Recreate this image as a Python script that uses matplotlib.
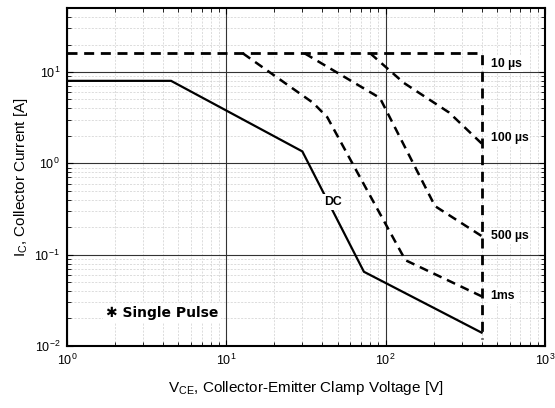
import numpy as np
import matplotlib.pyplot as plt
from matplotlib.ticker import LogLocator, NullFormatter

plt.rcParams['font.family'] = ['Liberation Sans', 'DejaVu Sans']
plt.rcParams['mathtext.fontset'] = 'custom'
plt.rcParams['mathtext.rm'] = 'Liberation Sans'

# --- veriler ---
dc_v = [1, 4.5, 30, 73, 400]
dc_i = [8, 8, 1.35, 0.065, 0.014]

us10_v = [1, 400, 400]
us10_i = [16, 16, 0.012]

us100_v = [80, 130, 250, 400]
us100_i = [16, 7.6, 3.6, 1.65]

us500_v = [31, 92, 204, 400]
us500_i = [16, 5.2, 0.34, 0.16]

ms1_v = [12.7, 35, 43, 60, 133, 400]
ms1_i = [16, 4.6, 3.2, 1.1, 0.087, 0.035]

labels = ["10 \u00b5s", "100 \u00b5s", "500 \u00b5s", "1ms"]
label_pos = [(455, 12.2), (455, 1.9), (455, 0.16), (455, 0.035)]

fig = plt.figure(figsize=(5.55, 4.08), dpi=100)
ax = fig.add_axes([0.1207, 0.152, 0.8613, 0.828])

dash = (0, (3.6, 2.4))
ax.plot(dc_v, dc_i, color='black', lw=1.6, solid_joinstyle='miter', zorder=3)
ax.plot(us10_v, us10_i, color='black', lw=2, linestyle=dash, zorder=3)
ax.plot(us100_v, us100_i, color='black', lw=1.8, linestyle=dash, zorder=3)
ax.plot(us500_v, us500_i, color='black', lw=1.8, linestyle=dash, zorder=3)
ax.plot(ms1_v, ms1_i, color='black', lw=1.8, linestyle=dash, zorder=3)

ax.set_xscale('log')
ax.set_yscale('log')
ax.set_xlim(1, 1000)
ax.set_ylim(0.01, 50)

ax.xaxis.set_major_locator(LogLocator(base=10, numticks=10))
ax.yaxis.set_major_locator(LogLocator(base=10, numticks=10))
ax.xaxis.set_minor_locator(LogLocator(base=10, subs=np.arange(2, 10), numticks=20))
ax.yaxis.set_minor_locator(LogLocator(base=10, subs=np.arange(2, 10), numticks=20))
ax.xaxis.set_minor_formatter(NullFormatter())
ax.yaxis.set_minor_formatter(NullFormatter())

ax.grid(True, which='major', color='#333333', lw=0.8, linestyle='-')
ax.grid(True, which='minor', color='#cfcfcf', lw=0.5, linestyle='--', dashes=(3, 2))
ax.set_axisbelow(True)

ax.tick_params(which='both', direction='in', top=True, right=True, labelsize=9, pad=5)
ax.tick_params(which='major', length=4)
ax.tick_params(which='minor', length=3)
for s in ax.spines.values():
    s.set_linewidth(1.5)

for txt, (x, y) in zip(labels, label_pos):
    ax.text(x, y, txt, fontsize=8.8, fontweight='bold', ha='left', va='center', zorder=4,
            bbox=dict(facecolor='white', edgecolor='none', pad=1.5))

ax.text(47, 0.38, "DC", fontsize=8.8, fontweight='bold', ha='center', va='center', zorder=4,
        bbox=dict(facecolor='white', edgecolor='none', pad=1.5))

ax.text(1.75, 0.023, "\u2731 Single Pulse", fontsize=10, fontweight='bold', ha='left', va='center',
        family=['DejaVu Sans'], zorder=4,
        bbox=dict(facecolor='white', edgecolor='none', pad=2))

ax.set_xlabel(r"$\mathregular{V_{CE}}$, Collector-Emitter Clamp Voltage [V]", fontsize=11, labelpad=8)
ax.set_ylabel(r"$\mathregular{I_{C}}$, Collector Current [A]", fontsize=11, labelpad=3)

fig.savefig("out.png", dpi=100)
